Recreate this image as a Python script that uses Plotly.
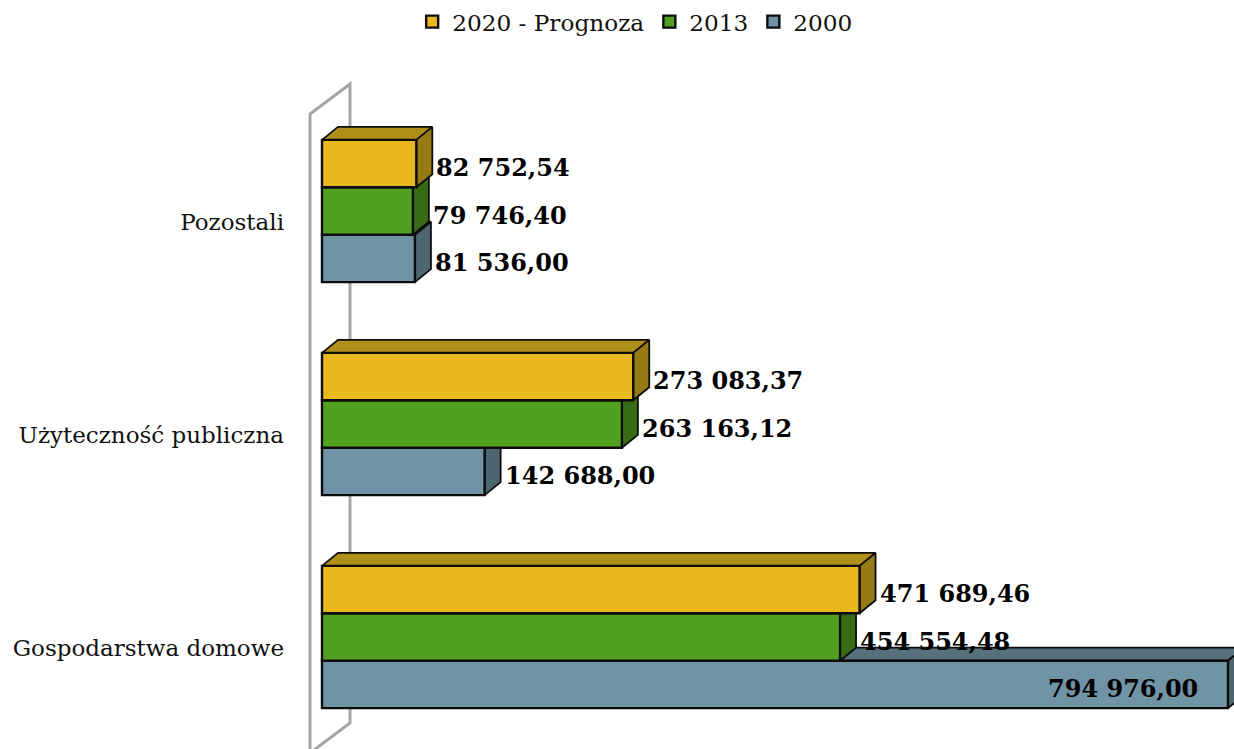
import plotly.graph_objects as go

categories = ["Pozostali", "Użyteczność publiczna", "Gospodarstwa domowe"]
series_names = ["2020 - Prognoza", "2013", "2000"]
values_2020 = [82752.54, 273083.37, 471689.46]
values_2013 = [79746.40, 263163.12, 454554.48]
values_2000 = [81536.00, 142688.00, 794976.00]

front = ["#E8B81E", "#52A020", "#7093A5"]
top = ["#B08F18", "#376B16", "#56707C"]
side = ["#977A14", "#376B16", "#4D6670"]

W, H = 1234, 749
X0, XEND = 322, 1228
k = (XEND - X0) / values_2000[2]     # pixels per unit
GROUP0, STEP, BARH = 211, 213, 47.4
bw = BARH / STEP
dx, dy = 16 / k, 13 / STEP
PLOT_L = 300
EDGE = "#0d0d0d"

all_values = [values_2020, values_2013, values_2000]
fig = go.Figure()

# back to front: 2000, 2013, 2020
z = 0
traces = {}
for j in [2, 1, 0]:
    vals = all_values[j]
    for i, v in enumerate(vals):
        yc = i + (j - 1) * bw
        yt, yb = yc - bw / 2, yc + bw / 2
        fig.add_trace(go.Scatter(x=[0, dx, v + dx, v, 0], y=[yt, yt - dy, yt - dy, yt, yt],
                                 mode="lines", fill="toself", fillcolor=top[j],
                                 line=dict(color=EDGE, width=1.8), showlegend=False,
                                 hoverinfo="skip", zorder=z))
        fig.add_trace(go.Scatter(x=[v, v + dx, v + dx, v, v],
                                 y=[yt, yt - dy, yb - dy, yb, yt],
                                 mode="lines", fill="toself", fillcolor=side[j],
                                 line=dict(color=EDGE, width=1.8), showlegend=False,
                                 hoverinfo="skip", zorder=z))
    z += 1
    traces[j] = go.Bar(y=list(range(3)), x=vals, name=series_names[j], orientation="h",
                       marker=dict(color=front[j], line=dict(color=EDGE, width=2.4)), zorder=z)
    z += 1

for j in [0, 1, 2]:
    fig.add_trace(traces[j])

annotations = []
for j, vals in enumerate(all_values):
    for i, v in enumerate(vals):
        inside = v > 700000
        annotations.append(dict(
            x=v, y=i + (j - 1) * bw, xref="x", yref="y",
            text=f"{v:,.2f}".replace(",", " ").replace(".", ","),
            showarrow=False, xanchor="right" if inside else "left",
            xshift=-28 if inside else 18, yshift=-4,
            font=dict(family="DejaVu Serif", size=24, color="#000000", weight="bold")))

wall = dict(type="path", xref="paper", yref="paper", layer="below",
            line=dict(color="#a6a6a6", width=3), fillcolor="rgba(0,0,0,0)")
def px(x):
    return f"{x / W:.5f}"
def py(y):
    return f"{1 - y / H:.5f}"
wall["path"] = (f"M{px(310)},{py(753)} L{px(310)},{py(114)} L{px(350)},{py(84)} "
                f"L{px(350)},{py(723)} L{px(310)},{py(753)}")

fig.update_layout(
    width=W, height=H, autosize=False,
    margin=dict(l=0, r=0, t=0, b=0),
    paper_bgcolor="white", plot_bgcolor="rgba(0,0,0,0)",
    barmode="group", bargap=1 - 3 * bw, bargroupgap=0,
    showlegend=True,
    legend=dict(orientation="h", x=0.334, y=1.0, xanchor="left", yanchor="top",
                bgcolor="rgba(0,0,0,0)", traceorder="normal",
                font=dict(family="DejaVu Serif", size=23.2, color="#111111")),
    xaxis=dict(domain=[PLOT_L / W, 1], range=[(PLOT_L - X0) / k, (W - X0) / k],
               showgrid=False, zeroline=False, showline=False, showticklabels=False, ticks=""),
    yaxis=dict(range=[(H - GROUP0) / STEP, -GROUP0 / STEP], tickmode="array",
               tickvals=[i + 11 / STEP for i in range(3)], ticktext=categories,
               showgrid=False, zeroline=False, showline=False, ticks="",
               ticklabelstandoff=15,
               tickfont=dict(family="DejaVu Serif", size=23, color="#111111")),
    shapes=[wall], annotations=annotations, hovermode=False,
)

fig.write_html("out.html", config={"displayModeBar": False},
               post_script="document.body.style.margin='0';document.body.style.overflow='hidden';")
